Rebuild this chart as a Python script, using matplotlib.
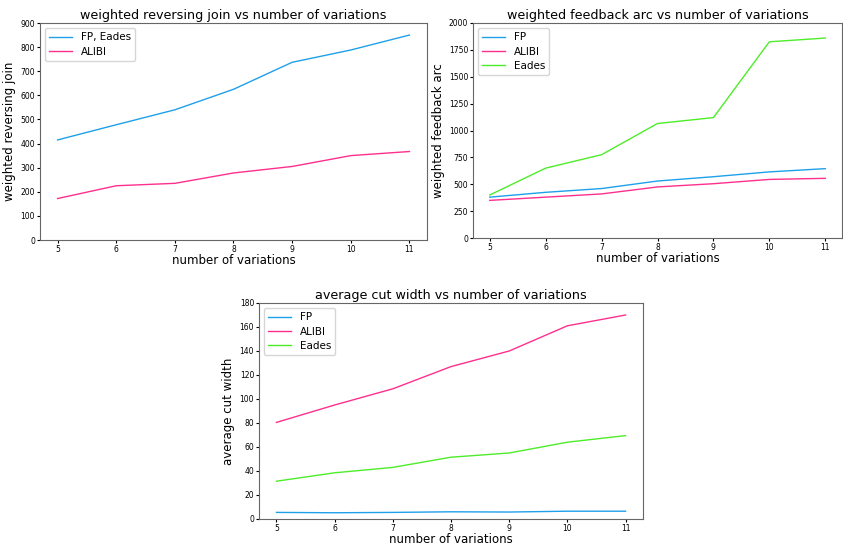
import matplotlib.pyplot as plt

# number of variations
x = [5, 6, 7, 8, 9, 10, 11]

# weighted reversing join
rj_fp_eades = [415, 478, 540, 625, 737, 788, 850]
rj_alibi = [172, 225, 235, 278, 305, 350, 367]

# weighted feedback arc
fa_fp = [380, 425, 460, 530, 570, 615, 645]
fa_alibi = [350, 380, 410, 475, 505, 545, 555]
fa_eades = [400, 650, 775, 1065, 1120, 1825, 1860]

# average cut width
cw_fp = [5.5, 5.2, 5.5, 6.0, 5.8, 6.5, 6.5]
cw_alibi = [80.5, 95, 108.5, 127, 140, 161, 170]
cw_eades = [31.5, 38.5, 43, 51.5, 55, 64, 69.5]

BLUE = "#1ea0ea"
PINK = "#ff2f8e"
GREEN = "#4ded2a"

W, H = 843, 549
fig = plt.figure(figsize=(W / 100, H / 100), dpi=100)


def box(l, t, r, b):
    return [l / W, 1 - b / H, (r - l) / W, (b - t) / H]


def style(ax, title, ylabel, ylim):
    ax.set_title(title, fontsize=9.2, pad=3)
    ax.set_xlabel("number of variations", fontsize=8.5, labelpad=0)
    ax.set_ylabel(ylabel, fontsize=8.5, labelpad=3)
    ax.set_ylim(*ylim)
    ax.set_xticks(x)
    ax.tick_params(labelsize=5.5, length=2, pad=1.5)
    for s in ax.spines.values():
        s.set_color("#666666")
    ax.legend(loc="upper left", fontsize=7.5, handlelength=2.2,
              labelspacing=0.4)


ax1 = fig.add_axes(box(40, 23, 427, 240))
ax1.plot(x, rj_fp_eades, color=BLUE, lw=1, label="FP, Eades")
ax1.plot(x, rj_alibi, color=PINK, lw=1, label="ALIBI")
style(ax1, "weighted reversing join vs number of variations",
      "weighted reversing join", (0, 900))

ax2 = fig.add_axes(box(473, 23, 842, 238))
ax2.plot(x, fa_fp, color=BLUE, lw=1, label="FP")
ax2.plot(x, fa_alibi, color=PINK, lw=1, label="ALIBI")
ax2.plot(x, fa_eades, color=GREEN, lw=1, label="Eades")
style(ax2, "weighted feedback arc vs number of variations",
      "weighted feedback arc", (0, 2000))

ax3 = fig.add_axes(box(259, 303, 643, 519))
ax3.plot(x, cw_fp, color=BLUE, lw=1, label="FP")
ax3.plot(x, cw_alibi, color=PINK, lw=1, label="ALIBI")
ax3.plot(x, cw_eades, color=GREEN, lw=1, label="Eades")
style(ax3, "average cut width vs number of variations",
      "average cut width", (0, 180))

fig.savefig("out.png", dpi=100)
